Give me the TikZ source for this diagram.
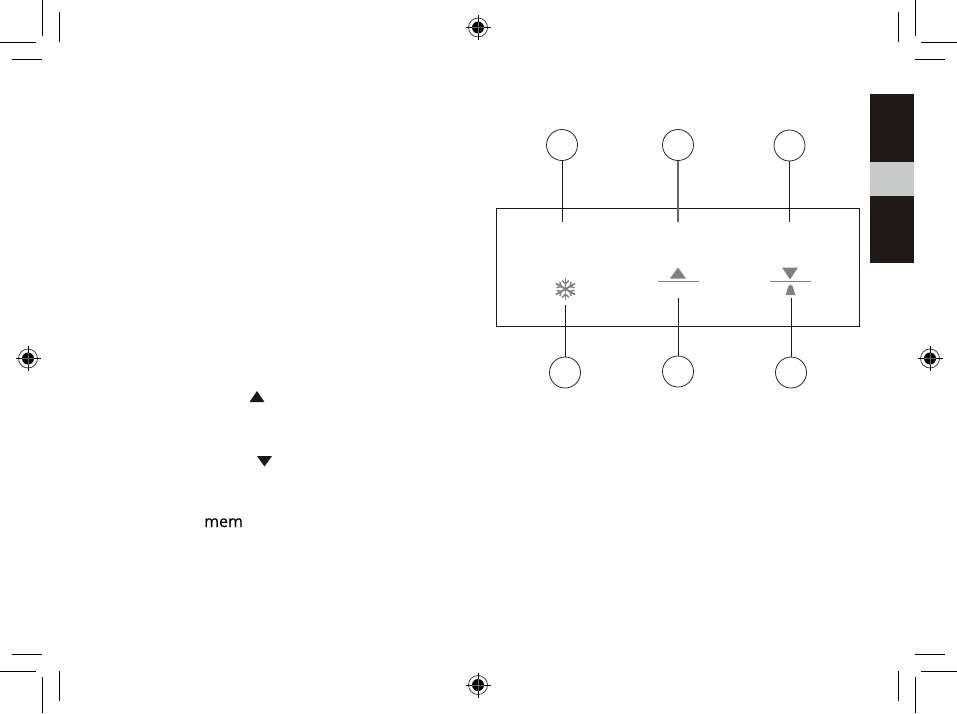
\documentclass[tikz,border=0pt]{standalone}
\usepackage{fontspec}
\setmainfont{Open Sans}
\newfontfamily\memfont[FakeBold=0.4]{Open Sans}
\definecolor{tabdark}{HTML}{1F1A17}
\definecolor{tablight}{HTML}{C8CAC9}
\definecolor{icongray}{HTML}{808080}
\tikzset{
  callout/.style={circle,draw=black!85,line width=0.8pt,minimum size=31pt,inner sep=0pt},
  leader/.style={draw=black!90,line width=0.9pt},
  crop/.style={draw=black,line width=0.9pt},
  icon/.style={fill=icongray,draw=none},
  rule/.style={draw=icongray,line width=0.8pt},
  pics/regmark/.style={code={
    \draw[line width=0.8pt,black!75] (0,0) circle (9.5);
    \fill[black] (0,0) circle (6);
    \draw[line width=0.8pt,black] (-12.5,0) -- (12.5,0) (0,-12.5) -- (0,12.5);
    \draw[line width=0.4pt,black!60] (-6,0) -- (6,0) (0,-6) -- (0,6);
  }}
}
\begin{document}
\begin{tikzpicture}[x=1pt,y=-1pt]
\useasboundingbox (0,0) rectangle (957,713);
% crop marks
\draw[crop] (42.5,0) -- (42.5,35.5) (59.5,12) -- (59.5,42) (0,42.5) -- (36,42.5) (12,59.5) -- (42,59.5);
\draw[crop] (915.5,0) -- (915.5,35.5) (898.5,12) -- (898.5,42) (921,42.5) -- (957,42.5) (915,59.5) -- (945,59.5);
\draw[crop] (42.5,677) -- (42.5,713) (59.5,671) -- (59.5,701) (0,671) -- (36,671) (12,654.5) -- (42,654.5);
\draw[crop] (915.5,677) -- (915.5,713) (898.5,671) -- (898.5,701) (921,671) -- (957,671) (915,654.5) -- (945,654.5);
% registration marks
\pic at (478,27.5) {regmark};
\pic at (478,685) {regmark};
\pic at (28,358.5) {regmark};
\pic at (930,358.5) {regmark};
% side tabs
\fill[tabdark] (870,94) rectangle (914,162);
\fill[tablight] (870,162) rectangle (914,196);
\fill[tabdark] (870,196) rectangle (914,263);
% panel
\node[draw=black!90,line width=0.8pt,minimum width=363pt,minimum height=118pt,inner sep=0pt] (panel) at (678,267.5) {};
% callouts
\node[callout] (t1) at (562,145) {};
\node[callout] (t2) at (678,145) {};
\node[callout] (t3) at (789.5,145.5) {};
\node[callout] (b1) at (565,372.5) {};
\node[callout] (b2) at (678,371.5) {};
\node[callout] (b3) at (791,372.5) {};
\coordinate (e1) at (562,221.5);
\coordinate (e2) at (678,221.5);
\coordinate (e3) at (789.5,221.5);
\coordinate (f1) at (565,305);
\coordinate (f2) at (678,298);
\coordinate (f3) at (791,298);
\draw[leader] (t1) -- (e1);
\draw[leader,draw=black!60,line width=1.1pt] (t2) -- (e2);
\draw[leader] (t3) -- (e3);
\draw[leader] (b1) -- (f1);
\draw[leader] (b2) -- (f2);
\draw[leader] (b3) -- (f3);
% panel icons
\fill[icon] (670,278.5) -- (686,278.5) -- (678,267.5) -- cycle;
\draw[rule] (658,281.5) -- (699,281.5);
\fill[icon] (782,267.5) -- (798,267.5) -- (790,279.5) -- cycle;
\draw[rule] (770,281.5) -- (811,281.5);
\fill[icon] (785.5,295) .. controls (787.5,292) and (787,285.5) .. (790.5,284.5) .. controls (794,285.5) and (793.5,292) .. (795.5,295) -- cycle;
% snowflake
\begin{scope}[shift={(565.5,289)}]
\foreach \a in {0,60,...,300}{
  \begin{scope}[rotate=\a+30]
    \draw[icongray,line width=1.8pt] (0,0) -- (11,0);
    \draw[icongray,line width=1.4pt] (8.5,-3.4) -- (5,0) -- (8.5,3.4);
  \end{scope}
}
\end{scope}
% left text icons
\fill[black!90] (249.5,402) -- (264.5,402) -- (257,391) -- cycle;
\fill[black!90] (257,456) -- (272,456) -- (264.5,466.5) -- cycle;
\node[inner sep=0pt,anchor=base west,font=\memfont\fontsize{16}{16}\selectfont,text=black] (mem) at (204,527) {mem};
\end{tikzpicture}
\end{document}
